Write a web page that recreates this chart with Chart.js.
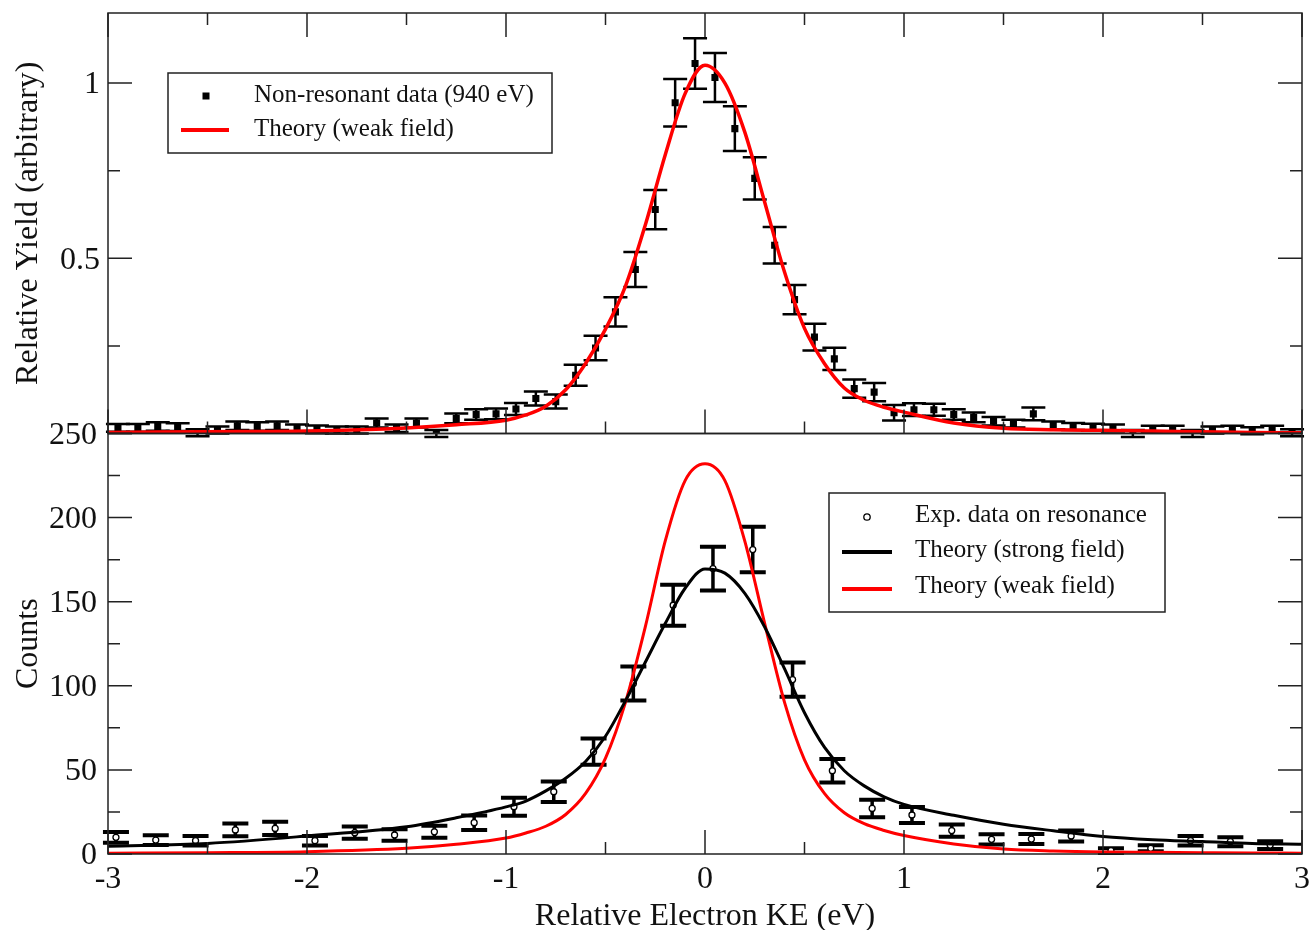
<!DOCTYPE html>
<html>
<head>
<meta charset="utf-8">
<title>Relative Electron KE</title>
<script src="https://cdn.jsdelivr.net/npm/chart.js@4.4.1/dist/chart.umd.min.js"></script>
<style>
  body { margin: 0; background: #fff; }
  #wrap { width: 1312px; height: 930px; }
</style>
</head>
<body>
<div id="wrap"><canvas id="keChart" width="1312" height="930"></canvas></div>
<script>
// top panel: non-resonant data (940 eV)
const yieldKE = [-2.95, -2.85, -2.75, -2.65, -2.55, -2.45, -2.35, -2.25, -2.15, -2.05,
  -1.95, -1.85, -1.75, -1.65, -1.55, -1.45, -1.35, -1.25, -1.15, -1.05,
  -0.95, -0.85, -0.75, -0.65, -0.55, -0.45, -0.35, -0.25, -0.15, -0.05,
  0.05, 0.15, 0.25, 0.35, 0.45, 0.55, 0.65, 0.75, 0.85, 0.95,
  1.05, 1.15, 1.25, 1.35, 1.45, 1.55, 1.65, 1.75, 1.85, 1.95,
  2.05, 2.15, 2.25, 2.35, 2.45, 2.55, 2.65, 2.75, 2.85, 2.95];
const yieldData = [0.016, 0.016, 0.02, 0.018, 0.002, 0.01, 0.022, 0.02, 0.022, 0.015,
  0.012, 0.01, 0.01, 0.03, 0.015, 0.03, 0.0, 0.043, 0.054, 0.056,
  0.07, 0.1, 0.091, 0.166, 0.244, 0.347, 0.468, 0.639, 0.944, 1.056,
  1.016, 0.87, 0.728, 0.537, 0.382, 0.275, 0.213, 0.128, 0.118, 0.059,
  0.068, 0.068, 0.054, 0.046, 0.035, 0.028, 0.056, 0.023, 0.02, 0.018,
  0.016, 0.0, 0.012, 0.012, 0.0, 0.01, 0.012, 0.008, 0.012, 0.002];
const yieldErr = [0.011, 0.011, 0.012, 0.011, 0.01, 0.01, 0.012, 0.012, 0.012, 0.011,
  0.011, 0.01, 0.01, 0.013, 0.011, 0.013, 0.01, 0.014, 0.015, 0.015,
  0.017, 0.02, 0.02, 0.03, 0.035, 0.042, 0.05, 0.056, 0.068, 0.072,
  0.07, 0.064, 0.06, 0.052, 0.042, 0.038, 0.032, 0.026, 0.026, 0.022,
  0.018, 0.017, 0.015, 0.014, 0.012, 0.011, 0.018, 0.011, 0.01, 0.01,
  0.01, 0.01, 0.01, 0.01, 0.01, 0.01, 0.01, 0.01, 0.01, 0.01];

// bottom panel: exp. data on resonance
const countsKE = [-2.96, -2.76, -2.56, -2.36, -2.16, -1.96, -1.76, -1.56, -1.36, -1.16,
  -0.96, -0.76, -0.56, -0.36, -0.16, 0.04, 0.24, 0.44, 0.64, 0.84,
  1.04, 1.24, 1.44, 1.64, 1.84, 2.04, 2.24, 2.44, 2.64, 2.84];
const countsData = [9.9, 8.3, 7.9, 14.3, 15.2, 7.9, 12.7, 11.3, 13.2, 18.6,
  28.1, 37, 60.8, 101.4, 147.9, 169.7, 181, 103.7, 49.5, 27.1,
  23.2, 13.9, 8.7, 8.9, 10.7, 2, 3.4, 7.9, 7.3, 5.3];
const countsErr = [3.2, 2.9, 2.8, 3.8, 3.9, 2.8, 3.6, 3.4, 3.6, 4.3,
  5.3, 6.1, 7.8, 10.1, 12.2, 13, 13.5, 10.2, 7, 5.2,
  4.8, 3.7, 3, 3, 3.3, 1.4, 1.8, 2.8, 2.7, 2.3];

// theory curves
const curveKE = [-3, -2.5, -2, -1.5, -1.25, -1, -0.9, -0.8, -0.7, -0.6, -0.5, -0.4, -0.3, -0.2, -0.1,
  0, 0.1, 0.2, 0.3, 0.4, 0.5, 0.6, 0.7, 0.8, 0.9, 1, 1.25, 1.5, 1.75, 2, 2.25, 2.5, 2.75, 3];
const yieldWeak = [0.003, 0.005, 0.007, 0.016, 0.025, 0.038, 0.053, 0.078, 0.125, 0.2, 0.298, 0.42, 0.595, 0.795, 0.97,
  1.051, 1.0, 0.86, 0.66, 0.46, 0.3, 0.2, 0.13, 0.095, 0.075, 0.061, 0.03, 0.015, 0.011, 0.009, 0.007, 0.005, 0.003, 0.002];
const countsStrong = [4.6, 6.3, 10.7, 16.2, 21.5, 28, 31.5, 37.5, 45, 55, 70, 91, 114, 137, 158,
  169.5, 167, 155, 135, 110, 84, 63.5, 49.5, 40.5, 34, 29.5, 23, 17.7, 13.8, 10.4, 8.5, 7.4, 6.2, 5.8];
const countsWeak = [0.5, 0.8, 1.4, 3.4, 5.8, 9.5, 12.5, 16.5, 23.5, 36, 57, 90, 135, 186, 222,
  232, 222, 186, 137, 90, 56, 36, 24.5, 18, 14, 11, 6, 3, 1.8, 1.2, 1, 0.8, 0.6, 0.5];

const keMinorTicks = [-2.5, -1.5, -0.5, 0.5, 1.5, 2.5];
const yieldMinorTicks = [0.25, 0.75];
const countsMinorTicks = [25, 75, 125, 175, 225];

const serif = '"Liberation Serif", "DejaVu Serif", serif';

function pts(xs, ys) {
  return xs.map((x, i) => ({ x: x, y: ys[i] }));
}

// error bars, drawn under the markers
const errorBars = {
  id: 'errorBars',
  beforeDatasetsDraw(chart) {
    const ctx = chart.ctx;
    const xs = chart.scales.x;
    ctx.save();
    chart.data.datasets.forEach(ds => {
      if (!ds.errors) return;
      const ys = chart.scales[ds.yAxisID];
      ctx.strokeStyle = '#000';
      ds.data.forEach((p, i) => {
        const px = xs.getPixelForValue(p.x);
        const y1 = ys.getPixelForValue(p.y + ds.errors[i]);
        const y2 = ys.getPixelForValue(p.y - ds.errors[i]);
        ctx.lineWidth = ds.barWidth;
        ctx.beginPath();
        ctx.moveTo(px, y1); ctx.lineTo(px, y2);
        ctx.stroke();
        ctx.lineWidth = ds.capThick;
        ctx.beginPath();
        ctx.moveTo(px - ds.capHalf, y1); ctx.lineTo(px + ds.capHalf, y1);
        ctx.moveTo(px - ds.capHalf, y2); ctx.lineTo(px + ds.capHalf, y2);
        ctx.stroke();
      });
    });
    ctx.restore();
  }
};

// panel frames with inward ticks, plus the two legends
const frames = {
  id: 'frames',
  afterDraw(chart) {
    const ctx = chart.ctx;
    const xs = chart.scales.x;
    const L = chart.chartArea.left, R = chart.chartArea.right;
    const xMajor = xs.ticks.map(t => t.value);
    ctx.save();
    ctx.strokeStyle = '#222';
    ctx.lineWidth = 1.5;
    const panels = [
      { id: 'yTop', minor: yieldMinorTicks, topTicks: true },
      { id: 'yCounts', minor: countsMinorTicks, topTicks: false }
    ];
    panels.forEach(pn => {
      const ys = chart.scales[pn.id];
      const T = ys.top, B = ys.bottom;
      ctx.strokeRect(L, T, R - L, B - T);
      ctx.beginPath();
      const xTick = (v, len) => {
        const px = xs.getPixelForValue(v);
        ctx.moveTo(px, B); ctx.lineTo(px, B - len);
        if (pn.topTicks) { ctx.moveTo(px, T); ctx.lineTo(px, T + len); }
      };
      xMajor.forEach(v => xTick(v, 24));
      keMinorTicks.forEach(v => xTick(v, 12));
      const yTick = (v, len) => {
        const py = ys.getPixelForValue(v);
        ctx.moveTo(L, py); ctx.lineTo(L + len, py);
        ctx.moveTo(R, py); ctx.lineTo(R - len, py);
      };
      ys.ticks.forEach(t => yTick(t.value, 24));
      pn.minor.forEach(v => yTick(v, 12));
      ctx.stroke();
    });

    const box = (x, y, w, h) => {
      ctx.fillStyle = '#fff';
      ctx.fillRect(x, y, w, h);
      ctx.strokeStyle = '#222';
      ctx.lineWidth = 1.5;
      ctx.strokeRect(x, y, w, h);
    };
    const label = (text, x, y) => {
      ctx.fillStyle = '#111';
      ctx.font = '25px ' + serif;
      ctx.textAlign = 'left';
      ctx.textBaseline = 'middle';
      ctx.fillText(text, x, y);
    };
    const line = (x1, x2, y, color) => {
      ctx.strokeStyle = color;
      ctx.lineWidth = 4;
      ctx.beginPath(); ctx.moveTo(x1, y); ctx.lineTo(x2, y); ctx.stroke();
    };

    // legend, top panel
    box(168, 73, 384, 80);
    ctx.fillStyle = '#000';
    ctx.fillRect(202.5, 92.5, 7, 7);
    label('Non-resonant data (940 eV)', 254, 95);
    line(181, 229, 130, '#ff0000');
    label('Theory (weak field)', 254, 129);

    // legend, bottom panel
    box(829, 493, 336, 119);
    ctx.beginPath();
    ctx.arc(867, 517, 3.2, 0, Math.PI * 2);
    ctx.fillStyle = '#fff'; ctx.fill();
    ctx.strokeStyle = '#000'; ctx.lineWidth = 1.3; ctx.stroke();
    label('Exp. data on resonance', 915, 515);
    line(842, 892, 552, '#000');
    label('Theory (strong field)', 915, 550);
    line(842, 892, 589, '#ff0000');
    label('Theory (weak field)', 915, 586);
    ctx.restore();
  }
};

function noPad(s) {
  s.paddingTop = 0; s.paddingBottom = 0; s.paddingLeft = 0; s.paddingRight = 0;
}

const ctx = document.getElementById('keChart').getContext('2d');
const keChart = new Chart(ctx, {
  type: 'scatter',
  data: {
    datasets: [
      {
        label: 'Theory (weak field)',
        data: pts(curveKE, yieldWeak),
        yAxisID: 'yTop',
        showLine: true,
        borderColor: '#ff0000',
        borderWidth: 3.5,
        pointRadius: 0,
        cubicInterpolationMode: 'monotone',
        order: 1
      },
      {
        label: 'Non-resonant data (940 eV)',
        data: pts(yieldKE, yieldData),
        yAxisID: 'yTop',
        errors: yieldErr, barWidth: 2.5, capThick: 2.5, capHalf: 12,
        pointStyle: 'rect',
        pointRadius: 5,
        backgroundColor: '#000',
        borderColor: '#000',
        borderWidth: 0,
        order: 2
      },
      {
        label: 'Theory (strong field)',
        data: pts(curveKE, countsStrong),
        yAxisID: 'yCounts',
        showLine: true,
        borderColor: '#000',
        borderWidth: 3,
        pointRadius: 0,
        cubicInterpolationMode: 'monotone',
        order: 1
      },
      {
        label: 'Theory (weak field)',
        data: pts(curveKE, countsWeak),
        yAxisID: 'yCounts',
        showLine: true,
        borderColor: '#ff0000',
        borderWidth: 3,
        pointRadius: 0,
        cubicInterpolationMode: 'monotone',
        order: 1
      },
      {
        label: 'Exp. data on resonance',
        data: pts(countsKE, countsData),
        yAxisID: 'yCounts',
        errors: countsErr, barWidth: 3.5, capThick: 4, capHalf: 13,
        pointStyle: 'circle',
        pointRadius: 3,
        backgroundColor: '#fff',
        borderColor: '#000',
        borderWidth: 1.3,
        order: 2
      }
    ]
  },
  options: {
    responsive: false,
    animation: false,
    devicePixelRatio: 1,
    layout: { padding: { top: 13, right: 10, left: 0, bottom: 0 } },
    plugins: { legend: { display: false }, tooltip: { enabled: false } },
    scales: {
      x: {
        type: 'linear',
        position: 'bottom',
        min: -3, max: 3,
        grid: { display: false, drawTicks: false },
        border: { display: false },
        ticks: { stepSize: 1, padding: 6, maxRotation: 0, color: '#111', font: { family: serif, size: 32 } },
        title: { display: true, text: 'Relative Electron KE (eV)', color: '#111',
          font: { family: serif, size: 32, lineHeight: 0.85 }, padding: { top: 0, bottom: 0 } },
        afterFit: s => { s.height = 76; noPad(s); }
      },
      yCounts: {
        type: 'linear',
        position: 'left',
        stack: 'panels',
        stackWeight: 1,
        min: 0, max: 250,
        grid: { display: false, drawTicks: false },
        border: { display: false },
        ticks: { stepSize: 50, padding: 11, labelOffset: 2, color: '#111', font: { family: serif, size: 32 } },
        title: { display: true, text: 'Counts', color: '#111',
          font: { family: serif, size: 32, lineHeight: 1 }, padding: { top: 13, bottom: 13 } },
        afterFit: s => { s.width = 108; noPad(s); }
      },
      yTop: {
        type: 'linear',
        position: 'left',
        stack: 'panels',
        stackWeight: 1,
        min: 0, max: 1.2,
        grid: { display: false, drawTicks: false },
        border: { display: false },
        ticks: { stepSize: 0.5, includeBounds: false, padding: 8, labelOffset: 2, color: '#111',
          font: { family: serif, size: 32 },
          callback: v => (v === 0 ? '' : String(v)) },
        title: { display: true, text: 'Relative Yield (arbitrary)', color: '#111',
          font: { family: serif, size: 32, lineHeight: 1 }, padding: { top: 13, bottom: 13 } },
        afterFit: s => { s.width = 108; noPad(s); }
      }
    }
  },
  plugins: [errorBars, frames]
});
</script>
</body>
</html>
